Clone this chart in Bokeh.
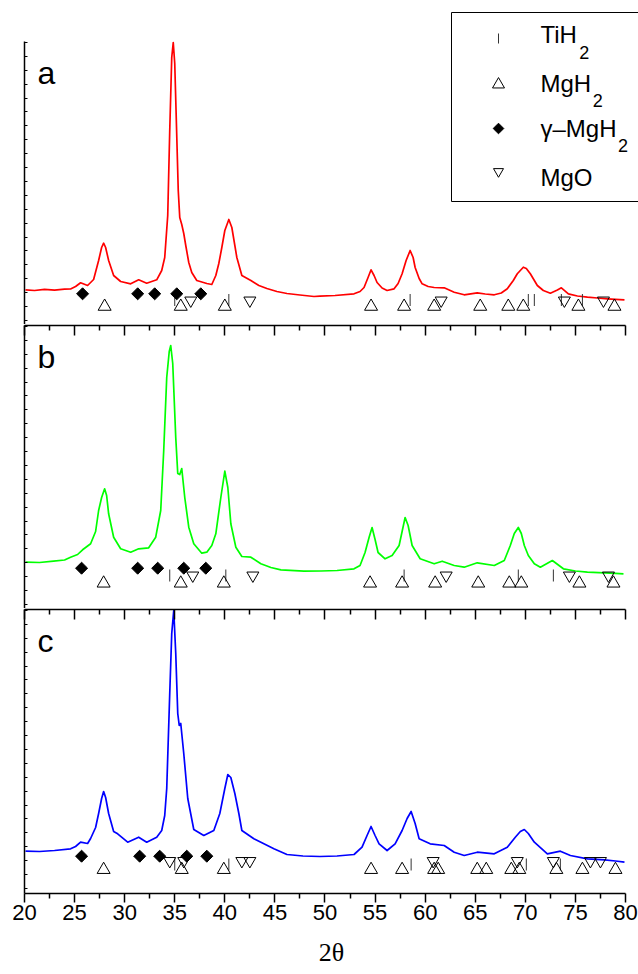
import numpy as np
from bokeh.plotting import figure
from bokeh.layouts import column
from bokeh.models import Range1d, LinearAxis, FixedTicker
from bokeh.core.properties import value
from bokeh.embed import file_html
from bokeh.resources import INLINE

# ---------------- data (2theta in degrees, intensity in arbitrary units) ----------------
two_theta_a = [20.1, 21.0, 22.0, 23.0, 24.0, 24.6, 25.1, 25.6, 26.3, 26.9,
               27.4, 27.7, 27.9, 28.1, 28.4, 28.9, 29.6, 30.6, 31.4, 32.2,
               33.2, 33.7, 34.0, 34.3, 34.5, 34.7, 34.85, 35.0, 35.2, 35.35,
               35.5, 35.7, 35.9, 36.1, 36.4, 36.7, 37.2, 38.2, 38.7, 39.1,
               39.4, 39.7, 40.0, 40.4, 40.7, 41.0, 41.2, 41.7, 42.6, 43.4,
               44.2, 45.2, 46.2, 47.5, 48.9, 49.5, 51.0, 52.9, 53.5, 53.9,
               54.3, 54.6, 54.9, 55.2, 55.7, 56.2, 56.9, 57.3, 57.7, 58.1,
               58.5, 58.8, 59.0, 59.4, 59.7, 60.3, 60.9, 61.9, 62.9, 63.9,
               65.2, 66.0, 66.9, 67.6, 68.2, 68.8, 69.2, 69.8, 70.1, 70.5,
               71.2, 71.8, 72.5, 73.2, 73.6, 74.3, 75.2, 76.2, 77.2, 78.2,
               79.0, 79.9]
intensity_a = [35.7, 35.0, 36.2, 35.4, 36.3, 36.5, 39.0, 42.7, 40.0, 46.0,
               65.0, 78.0, 82.3, 78.0, 65.0, 50.0, 44.0, 41.7, 45.7, 42.3,
               45.7, 55.0, 68.0, 110.0, 195.0, 268.0, 283.0, 262.0, 190.0, 135.0,
               108.0, 101.0, 92.0, 80.0, 63.0, 53.0, 45.0, 42.0, 41.0, 50.0,
               62.0, 78.0, 95.0, 106.0, 98.0, 80.0, 68.0, 50.0, 45.0, 40.0,
               37.0, 34.0, 32.0, 30.5, 29.0, 29.3, 30.0, 31.7, 34.0, 38.0,
               48.0, 55.7, 50.0, 43.0, 37.5, 35.0, 36.7, 42.0, 51.7, 65.0,
               75.0, 68.0, 58.0, 47.0, 41.7, 39.0, 38.0, 37.7, 33.3, 30.7,
               32.7, 31.5, 30.7, 32.5, 36.7, 45.0, 51.7, 58.3, 57.0, 51.7,
               40.0, 35.0, 32.3, 35.5, 37.7, 31.7, 29.5, 28.3, 27.5, 26.7,
               26.2, 25.7]

two_theta_b = [20.1, 21.5, 22.9, 24.0, 24.6, 25.3, 25.8, 26.6, 27.1, 27.4,
               27.7, 28.0, 28.2, 28.4, 28.9, 29.6, 30.6, 31.4, 32.4, 33.1,
               33.6, 33.9, 34.2, 34.45, 34.6, 34.8, 35.1, 35.3, 35.5, 35.7,
               36.0, 36.4, 36.9, 37.7, 38.2, 38.7, 39.1, 39.6, 40.0, 40.3,
               40.6, 41.1, 41.7, 42.6, 43.6, 44.6, 45.6, 47.9, 49.6, 51.2,
               52.9, 53.5, 54.0, 54.4, 54.7, 55.0, 55.3, 56.0, 56.7, 57.4,
               57.7, 58.0, 58.3, 58.7, 59.5, 60.9, 61.7, 62.9, 63.9, 65.2,
               66.9, 67.9, 68.5, 68.9, 69.3, 69.6, 69.9, 70.3, 70.9, 71.5,
               72.7, 73.8, 75.0, 76.2, 77.9, 79.0, 79.8]
intensity_b = [47.3, 47.0, 48.3, 49.5, 52.3, 55.0, 59.7, 65.7, 78.0, 99.0,
               112.0, 120.7, 114.0, 95.7, 72.3, 60.7, 57.3, 60.7, 61.7, 72.3,
               99.0, 159.0, 232.0, 258.0, 264.0, 246.0, 172.0, 136.0, 135.0, 141.0,
               112.0, 82.3, 65.7, 56.3, 57.3, 64.0, 75.7, 112.0, 138.3, 122.0,
               85.7, 62.3, 53.0, 52.3, 45.7, 42.0, 39.7, 38.3, 38.5, 39.0,
               40.7, 44.0, 57.0, 72.0, 82.0, 70.0, 57.0, 50.7, 54.0, 64.0,
               78.0, 92.0, 84.0, 64.0, 50.7, 45.7, 48.3, 44.0, 42.3, 46.7,
               44.0, 49.0, 64.0, 76.0, 82.0, 76.0, 64.0, 54.0, 45.7, 42.3,
               49.0, 40.7, 38.5, 37.3, 36.7, 36.2, 35.7]

two_theta_c = [20.1, 21.5, 23.0, 24.6, 25.1, 25.6, 26.3, 26.6, 27.1, 27.4,
               27.7, 27.9, 28.1, 28.4, 28.9, 29.3, 30.3, 31.4, 32.2, 33.2,
               33.7, 34.0, 34.2, 34.5, 34.7, 34.9, 35.1, 35.3, 35.45, 35.6,
               35.9, 36.3, 36.9, 37.9, 38.9, 39.5, 40.0, 40.3, 40.6, 41.0,
               41.4, 41.7, 42.9, 44.9, 46.2, 47.8, 49.5, 51.2, 52.9, 53.7,
               54.2, 54.6, 55.0, 55.4, 56.2, 57.0, 57.7, 58.2, 58.6, 59.0,
               59.4, 60.5, 61.9, 62.9, 63.9, 65.2, 66.9, 68.2, 69.0, 69.5,
               69.9, 70.3, 70.9, 72.2, 73.5, 74.5, 76.2, 77.9, 79.0, 79.9]
intensity_c = [42.3, 42.0, 43.0, 44.7, 47.0, 51.3, 50.0, 55.0, 66.0, 80.0,
               95.0, 102.0, 96.0, 80.0, 62.0, 59.7, 51.3, 56.3, 51.3, 56.3,
               63.0, 78.0, 105.0, 200.0, 260.0, 283.0, 240.0, 180.0, 168.0, 170.0,
               140.0, 95.0, 64.0, 58.0, 63.0, 80.0, 105.0, 119.0, 116.0, 100.0,
               80.0, 63.0, 54.7, 44.7, 39.0, 37.5, 37.0, 37.5, 39.0, 46.3,
               58.0, 67.0, 58.0, 49.7, 43.0, 49.7, 63.0, 75.0, 82.0, 70.0,
               54.7, 49.7, 48.0, 41.3, 38.0, 41.3, 39.7, 46.3, 56.3, 62.0,
               64.0, 60.0, 51.3, 39.7, 42.3, 38.0, 34.7, 33.7, 32.5, 31.3]

# phase reflection positions (2theta)
tih2_a = [35.0, 40.4, 58.5, 70.3, 70.9, 73.6, 75.7]
mgh2_a = [28.0, 35.6, 40.0, 54.6, 57.9, 60.9, 65.5, 68.3, 69.8, 75.3, 78.9]
gamma_a = [25.8, 31.3, 33.0, 35.2, 37.6]
mgo_a = [36.6, 42.5, 61.6, 73.9, 77.8]

tih2_b = [34.5, 40.1, 57.9, 69.3, 72.8]
mgh2_b = [27.9, 35.6, 39.9, 54.5, 57.7, 61.0, 65.3, 68.4, 69.6, 75.4, 78.8]
gamma_b = [25.7, 31.3, 33.3, 35.9, 38.1]
mgo_b = [36.8, 42.8, 62.1, 74.4, 78.3]

tih2_c = [35.0, 40.4, 58.6, 70.1, 73.5]
mgh2_c = [27.9, 35.7, 39.9, 54.6, 57.7, 60.9, 61.3, 65.2, 66.1, 68.6, 69.4, 73.1, 75.7, 79.0]
gamma_c = [25.7, 31.5, 33.5, 36.2, 38.2]
mgo_c = [34.5, 35.9, 41.7, 42.5, 60.8, 69.2, 72.8, 76.5, 77.5]

x_ticks = [20, 25, 30, 35, 40, 45, 50, 55, 60, 65, 70, 75, 80]
legend_names = ["TiH", "MgH", "γ–MgH", "MgO"]
legend_subs = ["2", "2", "2", ""]
panel_letters = ["a", "b", "c"]

# ---------------- layout / style ----------------
FONT = "Liberation Sans"
X0, X1 = 20.0, 81.3
PXD = 614.0 / (X1 - X0)          # pixels per degree in the frame
MINOR = [t + 2.5 for t in x_ticks[:-1]]
YTICKS = list(np.arange(5.1, 284, 13.9))
BLACK = "black"
TXT_SHIFT_LETTER = 11   # empirical baseline correction of the svg text (px)
TXT_SHIFT_LEG = 13
TXT_SHIFT_SUB = 9.5


def px_x(px):
    return X0 + (px - 24) / PXD


def base_fig(height, y0, y1, top_border, bottom_border):
    p = figure(width=638, height=height, x_range=Range1d(X0, X1), y_range=Range1d(y0, y1),
               x_axis_location=None, y_axis_location=None, output_backend="svg",
               toolbar_location=None, min_border_left=24, min_border_right=0,
               min_border_top=top_border, min_border_bottom=bottom_border)
    p.outline_line_color = None
    p.xgrid.visible = False
    p.ygrid.visible = False
    p.background_fill_color = "white"
    p.border_fill_color = "white"
    ax = LinearAxis(ticker=FixedTicker(ticks=YTICKS), bounds=(0, 284),
                    major_tick_in=3, major_tick_out=0, minor_tick_in=0, minor_tick_out=0,
                    major_label_text_font_size="0px", major_label_standoff=0,
                    major_label_text_alpha=0,
                    axis_line_width=1.5, axis_line_color=BLACK,
                    major_tick_line_width=1, major_tick_line_color=BLACK)
    p.add_layout(ax, "left")
    return p


def sep_axis(p):
    ax = LinearAxis(ticker=FixedTicker(ticks=x_ticks, minor_ticks=MINOR), bounds=(20, 80),
                    major_tick_in=10, major_tick_out=0, minor_tick_in=5, minor_tick_out=0,
                    major_label_text_font_size="0px", major_label_standoff=0,
                    major_label_text_alpha=0,
                    axis_line_width=1.5, axis_line_color=BLACK,
                    major_tick_line_width=1.5, minor_tick_line_width=1.5,
                    major_tick_line_color=BLACK, minor_tick_line_color=BLACK)
    p.add_layout(ax, "above")


def draw_panel(p, xs, ys, color, tih2, mgh2, gamma, mgo, levels, letter):
    p.line(xs, ys, line_color=color, line_width=1.7, line_join="round")
    lv_t, lv_m, lv_g, lv_o = levels
    p.scatter(tih2, [lv_t] * len(tih2), marker="dash", angle=np.pi / 2, size=12,
              line_color="#333333", line_width=1)
    p.scatter(mgh2, [lv_m] * len(mgh2), marker="triangle", size=13,
              fill_color=None, line_color=BLACK, line_width=1)
    p.scatter(gamma, [lv_g] * len(gamma), marker="square", angle=np.pi / 4, size=8.5,
              fill_color=BLACK, line_color=BLACK)
    p.scatter(mgo, [lv_o] * len(mgo), marker="inverted_triangle", size=12,
              fill_color=None, line_color=BLACK, line_width=1)
    p.text([px_x(37)], [242 + TXT_SHIFT_LETTER], text=[letter], text_font=value(FONT),
           text_font_size="32px", text_baseline="alphabetic", text_align="left",
           text_color=BLACK)


# panel a: canvas page y 0..324, intensity = 325 - page_y
pa = base_fig(324, 1, 325, 0, 0)
draw_panel(pa, two_theta_a, intensity_a, "#ff0000", tih2_a, mgh2_a, gamma_a, mgo_a,
           (25.5, 19.0, 31.7, 25.0), panel_letters[0])

# legend (drawn inside panel a)
ADV = {"T": 611, "i": 222, "H": 722, "M": 833, "g": 556, "O": 778, "γ": 500, "–": 556}


def text_w(s, size):
    return sum(ADV.get(c, 556) for c in s) / 1000.0 * size


pa.quad(left=[px_x(451)], right=[X1 + 5], bottom=[325 - 201], top=[325 - 12],
        fill_color="white", line_color=BLACK, line_width=1, level="underlay")
mk_x = px_x(498)
rows_mk = [325 - 38, 325 - 84, 325 - 128, 325 - 171]
pa.scatter([mk_x], [rows_mk[0]], marker="dash", angle=np.pi / 2, size=10,
           line_color="#333333", line_width=1)
pa.scatter([mk_x], [rows_mk[1]], marker="triangle", size=12, fill_color=None,
           line_color=BLACK, line_width=1)
pa.scatter([mk_x], [rows_mk[2]], marker="square", angle=np.pi / 4, size=7.5,
           fill_color=BLACK, line_color=BLACK)
pa.scatter([mk_x], [rows_mk[3]], marker="inverted_triangle", size=10, fill_color=None,
           line_color=BLACK, line_width=1)
base_px = [47, 95.5, 140.5, 190]
txt_x0 = 540
pa.text([px_x(txt_x0)] * 4, [325 - b + TXT_SHIFT_LEG for b in base_px], text=legend_names,
        text_font=value(FONT), text_font_size="24px", text_baseline="alphabetic",
        text_align="left", text_color=BLACK)
sub_x, sub_y, sub_t = [], [], []
for name, sub, b in zip(legend_names, legend_subs, base_px):
    if sub:
        sub_x.append(px_x(txt_x0 + text_w(name, 24) + 1.5))
        sub_y.append(325 - (b + 14) + TXT_SHIFT_SUB)
        sub_t.append(sub)
pa.text(sub_x, sub_y, text=sub_t, text_font=value(FONT), text_font_size="18px",
        text_baseline="alphabetic", text_align="left", text_color=BLACK)

# panel b: canvas page y 324..608, frame 325..608, intensity = 609 - page_y
pb = base_fig(284, 1, 284, 1, 0)
sep_axis(pb)
draw_panel(pb, two_theta_b, intensity_b, "#00ff00", tih2_b, mgh2_b, gamma_b, mgo_b,
           (34.0, 26.2, 41.3, 34.0), panel_letters[1])

# panel c: canvas page y 608..974, frame 609..893
pc = base_fig(366, 0, 284, 1, 81)
sep_axis(pc)
draw_panel(pc, two_theta_c, intensity_c, "#0000ff", tih2_c, mgh2_c, gamma_c, mgo_c,
           (29.0, 23.8, 37.3, 32.5), panel_letters[2])
xb = LinearAxis(ticker=FixedTicker(ticks=x_ticks, minor_ticks=MINOR), bounds=(20, 80),
                major_tick_out=9, major_tick_in=0, minor_tick_out=5, minor_tick_in=0,
                major_label_text_font=FONT, major_label_text_font_size="22px",
                major_label_standoff=2, major_label_text_color=BLACK,
                axis_label="2θ", axis_label_text_font="Liberation Serif",
                axis_label_text_font_size="26px", axis_label_text_font_style="normal",
                axis_label_standoff=15, axis_label_text_color=BLACK,
                axis_line_width=1.5, axis_line_color=BLACK,
                major_tick_line_width=1.5, minor_tick_line_width=1.5,
                major_tick_line_color=BLACK, minor_tick_line_color=BLACK)
pc.add_layout(xb, "below")

layout = column(pa, pb, pc, spacing=0)
open("out.html", "w").write(file_html(layout, INLINE, "XRD"))
